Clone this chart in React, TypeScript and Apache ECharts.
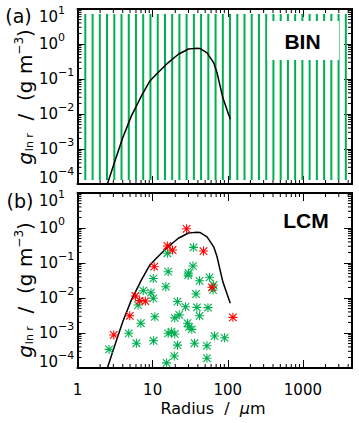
import React, { useEffect, useRef } from 'react';
import * as echarts from 'echarts';

const FONT = "'DejaVu Sans', Verdana, sans-serif";
const BOLD_FONT = "'Liberation Sans', Arial, sans-serif";
const GREEN = '#00b050';
const RED = '#ff0000';

const xMin = 1;
const xMax = 4500;
const yMin = 1e-4;
const yMax = 10;

// bin centres (radius, um) of the BIN scheme
const binRadii = [1.27, 1.59, 1.98, 2.47, 3.09, 3.85, 4.81, 6.0, 7.49, 9.35, 11.7, 14.6, 18.2, 22.7, 28.3, 35.4, 44.1, 55.1, 68.8, 85.9, 107, 134, 167, 208, 260, 325, 405, 506, 632, 788, 984, 1228, 1533, 1914, 2389, 2982, 3723];
const binLow = 1.3e-4;
const binHigh = 7.2;

// x tick labels
const xTickLabels = [1, 10, 100, 1000];

// reference mass distribution curve
const curveRadius = [2.5, 3.1, 4.0, 5.2, 7.1, 9.2, 11.2, 16, 22, 30, 37, 43, 53, 65, 72, 79, 86, 97, 108];
const curveMass = [1.0e-4, 4.1e-4, 2.1e-3, 8.7e-3, 0.033, 0.088, 0.136, 0.29, 0.51, 0.72, 0.75, 0.74, 0.56, 0.29, 0.15, 0.063, 0.029, 0.0136, 0.0071];

// LCM super-droplets
const greenPoints: [number, number][] = [
  [2.63, 3.4e-4], [4.81, 9.8e-4], [6.08, 5.1e-4], [6.96, 1.9e-3], [6.4, 6.3e-3],
  [7.5, 0.0162], [9.5, 0.0142], [10.2, 9.8e-3], [10.2, 0.036], [10.7, 2.9e-3],
  [10.3, 6.0e-4], [15, 0.021], [16.1, 0.0565], [15.7, 0.19], [15.3, 1.4e-4],
  [16.1, 9.8e-4], [17.8, 1.09e-3], [19.7, 9.4e-4], [21.4, 7.9e-3], [19.7, 2.7e-3],
  [22.6, 3.3e-3], [21.4, 4.5e-4], [19.4, 2.2e-4], [27.4, 5.6e-3], [29.7, 0.045],
  [29.1, 1.9e-3], [30.5, 1.5e-3], [33.2, 1.27e-3], [35, 0.28], [34.4, 0.082],
  [30.0, 0.051], [42.1, 0.031], [57.2, 0.039], [64.7, 0.0235], [63.5, 0.017],
  [37.7, 0.013], [38.8, 5.4e-3], [54.5, 5.3e-3], [42.1, 3.1e-3], [36.1, 5.1e-4],
  [52.8, 4.3e-4], [52.8, 1.9e-4], [66.7, 8.2e-4], [90.6, 7.3e-4],
];
const redPoints: [number, number][] = [
  [3.04, 8.8e-4], [4.96, 3.1e-3], [5.9, 0.0114], [6.7, 8.4e-3], [8.0, 8.2e-3],
  [10.5, 0.0785], [15.7, 0.306], [18.4, 0.235], [28.3, 0.95], [47.6, 0.22],
  [61.5, 0.0202], [117, 2.8e-3],
];

const xMinorTicks: number[] = [];
for (let k = 0; k <= 3; k++) for (let m = 2; m <= 9; m++) { const v = m * Math.pow(10, k); if (v < xMax) xMinorTicks.push(v); }
const yMinorTicks: number[] = [];
for (let k = -4; k <= 0; k++) for (let m = 2; m <= 9; m++) yMinorTicks.push(m * Math.pow(10, k));

const STAR = 'path://M8.8 0H11.2V20H8.8Z M0 8.8H20V11.2H0Z M2.5 0.8L19.2 17.5L17.5 19.2L0.8 2.5Z M17.5 0.8L19.2 2.5L2.5 19.2L0.8 17.5Z';

const yLabelFormatter = (value: number) => {
  const e = Math.round(Math.log10(value));
  const s = e < 0 ? '\u2212' + -e : String(e);
  if (e === -4) return `{bl|10}{sl|${s}}`;
  if (e === 1) return `{bt|10}{st|${s}}`;
  return `{b|10}{s|${s}}`;
};

const xLabelFormatter = (value: number) => {
  const hit = xTickLabels.find((t) => Math.abs(Math.log10(t) - Math.log10(value)) < 1e-6);
  return hit === undefined ? '' : String(hit);
};

const yRich = {
  b: { fontSize: 15, fontFamily: FONT, color: '#000' },
  s: { fontSize: 11, fontFamily: FONT, color: '#000', padding: [0, 0, 13, 0] },
  bl: { fontSize: 15, fontFamily: FONT, color: '#000', padding: [0, 0, 12, 0] },
  sl: { fontSize: 11, fontFamily: FONT, color: '#000', padding: [0, 0, 25, 0] },
  bt: { fontSize: 15, fontFamily: FONT, color: '#000', padding: [16, 0, 0, 0] },
  st: { fontSize: 11, fontFamily: FONT, color: '#000', padding: [3, 0, 0, 0] },
};

const axisLine = { show: true, onZero: false, lineStyle: { color: '#000', width: 2 } };
const axisTick = { show: true, inside: true, length: 8, lineStyle: { color: '#000', width: 1 } };

const makeX = (gridIndex: number, position: string, showLabel: boolean) => ({
  type: 'log', logBase: 10, gridIndex, position, min: xMin, max: xMax,
  axisLine, axisTick, splitLine: { show: false }, minorTick: { show: false },
  axisLabel: {
    show: showLabel, margin: 14, fontSize: 15, fontFamily: FONT, color: '#000',
    formatter: xLabelFormatter, showMaxLabel: false, showMinLabel: true, hideOverlap: false,
  },
});

const makeY = (gridIndex: number, position: string, showLabel: boolean) => ({
  type: 'log', logBase: 10, gridIndex, position, min: yMin, max: yMax,
  axisLine, axisTick, splitLine: { show: false }, minorTick: { show: false },
  axisLabel: { show: showLabel, align: 'left', margin: 38.5, formatter: yLabelFormatter, rich: yRich },
});

const minorTickSeries = (xi: number, yi: number) => ({
  type: 'custom', xAxisIndex: xi, yAxisIndex: yi, clip: false, silent: true, z: 5,
  encode: { x: 0, y: 1 },
  data: [...xMinorTicks.map((v) => [v, 1, 0]), ...yMinorTicks.map((v) => [1, v, 1])],
  renderItem: (_p: any, api: any) => {
    const kind = api.value(2);
    const st = { stroke: '#000', lineWidth: 1 };
    if (kind === 0) {
      const v = api.value(0);
      const b = api.coord([v, yMin]);
      const t = api.coord([v, yMax]);
      return { type: 'group', children: [
        { type: 'line', shape: { x1: b[0], y1: b[1], x2: b[0], y2: b[1] - 4 }, style: st },
        { type: 'line', shape: { x1: t[0], y1: t[1], x2: t[0], y2: t[1] + 4 }, style: st },
      ] };
    }
    const v = api.value(1);
    const l = api.coord([xMin, v]);
    const r = api.coord([xMax, v]);
    return { type: 'group', children: [
      { type: 'line', shape: { x1: l[0], y1: l[1], x2: l[0] + 4, y2: l[1] }, style: st },
      { type: 'line', shape: { x1: r[0], y1: r[1], x2: r[0] - 4, y2: r[1] }, style: st },
    ] };
  },
});

const curveData = curveRadius.map((r, i) => [r, curveMass[i]]);

const titleRich = {
  g: { fontSize: 20, fontFamily: FONT, fontStyle: 'italic', fill: '#000' },
  sub: { fontSize: 11, fontFamily: FONT, fill: '#000', padding: [9, 0, 0, 1] },
  n: { fontSize: 20, fontFamily: FONT, fill: '#000' },
  sup: { fontSize: 12, fontFamily: FONT, fill: '#000', padding: [0, 0, 13, 0] },
};
const yTitle = (cy: number) => ({
  type: 'text', x: 25, y: cy, rotation: Math.PI / 2, z: 20,
  style: {
    text: '{g|g}{sub|ln r}{n|  /  (g m}{sup|\u22123}{n|)}',
    rich: titleRich, align: 'center', verticalAlign: 'middle', fill: '#000',
  },
});

const option: any = {
  animation: false,
  backgroundColor: '#fff',
  grid: [
    { left: 77.5, top: 9, width: 274.5, height: 175 },
    { left: 77.5, top: 193, width: 274.5, height: 175 },
  ],
  xAxis: [makeX(0, 'bottom', false), makeX(0, 'top', false), makeX(1, 'bottom', true), makeX(1, 'top', false)],
  yAxis: [makeY(0, 'left', true), makeY(0, 'right', false), makeY(1, 'left', true), makeY(1, 'right', false)],
  series: [
    {
      type: 'custom', xAxisIndex: 0, yAxisIndex: 0, silent: true, z: 2,
      encode: { x: 0, y: [1, 2] },
      data: binRadii.map((r) => [r, binLow, binHigh]),
      renderItem: (_p: any, api: any) => {
        const a = api.coord([api.value(0), api.value(1)]);
        const b = api.coord([api.value(0), api.value(2)]);
        return { type: 'line', shape: { x1: a[0], y1: a[1], x2: b[0], y2: b[1] }, style: { stroke: GREEN, lineWidth: 2 } };
      },
    },
    { type: 'line', xAxisIndex: 0, yAxisIndex: 0, data: curveData, symbol: 'none', z: 4, lineStyle: { color: '#000', width: 1.5 } },
    { type: 'line', xAxisIndex: 2, yAxisIndex: 2, data: curveData, symbol: 'none', z: 2, lineStyle: { color: '#000', width: 1.5 } },
    { type: 'scatter', xAxisIndex: 2, yAxisIndex: 2, data: greenPoints, symbol: STAR, symbolSize: 9, z: 3, itemStyle: { color: GREEN, opacity: 1 } },
    { type: 'scatter', xAxisIndex: 2, yAxisIndex: 2, data: redPoints, symbol: STAR, symbolSize: 9, z: 4, itemStyle: { color: RED, opacity: 1 } },
    minorTickSeries(0, 0),
    minorTickSeries(2, 2),
  ],
  graphic: [
    { type: 'rect', z: 10, shape: { x: 267, y: 21, width: 72, height: 39 }, style: { fill: '#fff' } },
    { type: 'text', z: 11, x: 302.5, y: 41, style: { text: 'BIN', font: `bold 21px ${BOLD_FONT}`, fill: '#000', align: 'center', verticalAlign: 'middle' } },
    { type: 'text', z: 11, x: 306, y: 220, style: { text: 'LCM', font: `bold 21px ${BOLD_FONT}`, fill: '#000', align: 'center', verticalAlign: 'middle' } },
    { type: 'text', z: 11, x: 18.5, y: 16, style: { text: '(a)', font: `19px ${FONT}`, fill: '#000', align: 'center', verticalAlign: 'middle' } },
    { type: 'text', z: 11, x: 20, y: 201, style: { text: '(b)', font: `19px ${FONT}`, fill: '#000', align: 'center', verticalAlign: 'middle' } },
    {
      type: 'text', z: 11, x: 213, y: 408,
      style: {
        text: 'Radius  /  {mu|\u03bc}m', font: `16px ${FONT}`, fill: '#000', align: 'center', verticalAlign: 'middle',
        rich: { mu: { fontSize: 16, fontFamily: FONT, fontStyle: 'italic', fill: '#000' } },
      },
    },
    yTitle(97),
    yTitle(290),
  ],
};

export default function App() {
  const ref = useRef<HTMLDivElement>(null);
  useEffect(() => {
    const chart = echarts.init(ref.current as HTMLDivElement, null, { renderer: 'svg' });
    chart.setOption(option);
    return () => chart.dispose();
  }, []);
  return <div ref={ref} style={{ position: 'fixed', left: 0, top: 0, width: 359, height: 423 }} />;
}
